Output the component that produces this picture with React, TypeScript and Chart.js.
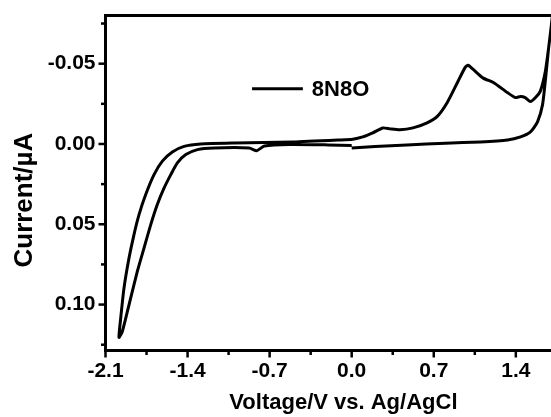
import React, { useEffect, useRef } from "react";
import { Chart, registerables } from "chart.js";

Chart.register(...registerables);

// ---- data ----
const seriesLabel = "8N8O";

// forward scan: 0 V -> positive vertex
const fwd1Voltage = [0.0, 0.2, 0.47, 0.8, 1.1, 1.33, 1.44, 1.525, 1.585, 1.628, 1.654, 1.68, 1.705, 1.73];
const fwd1Current = [0.0025, 0.0015, 0.0006, -0.0005, -0.0013, -0.0025, -0.0044, -0.0075, -0.0138, -0.0245, -0.041, -0.06, -0.075, -0.092];

// reverse scan: positive vertex -> negative vertex
const revVoltage = [1.7, 1.68, 1.652, 1.609, 1.568, 1.525, 1.48, 1.439, 1.396, 1.328, 1.208, 1.122, 1.037, 0.993, 0.968, 0.9, 0.814, 0.728, 0.643, 0.523, 0.411, 0.326, 0.266, 0.18, 0.094, 0.009, -0.103, -0.5, -1.0, -1.287, -1.43, -1.53, -1.615, -1.686, -1.757, -1.814, -1.857, -1.899, -1.942, -1.97, -1.985];
const revCurrent = [-0.072, -0.06, -0.0453, -0.0329, -0.0289, -0.0264, -0.0289, -0.0295, -0.0289, -0.032, -0.0383, -0.041, -0.0464, -0.049, -0.0477, -0.038, -0.0257, -0.017, -0.0132, -0.01, -0.0088, -0.0094, -0.01, -0.0069, -0.0044, -0.003, -0.0025, -0.0012, -0.0006, 0.0, 0.0015, 0.005, 0.0107, 0.0191, 0.0315, 0.044, 0.0564, 0.0709, 0.0896, 0.1083, 0.1204];

// second forward scan: negative vertex -> 0 V
const fwd2Voltage = [-1.956, -1.899, -1.828, -1.771, -1.714, -1.658, -1.6, -1.543, -1.487, -1.415, -1.316, -1.174, -0.874, -0.81, -0.745, -0.53, -0.2, 0.0];
const fwd2Current = [0.1166, 0.1, 0.0792, 0.0647, 0.0502, 0.0377, 0.0274, 0.0191, 0.0118, 0.0066, 0.0035, 0.0025, 0.0025, 0.0042, 0.0013, 0.0003, 0.0006, 0.001];

const xMajorTicks = [-2.1, -1.4, -0.7, 0.0, 0.7, 1.4];
const xMinorTicks = [-1.75, -1.05, -0.35, 0.35, 1.05];
const yMajorTicks = [-0.05, 0.0, 0.05, 0.1];
const yMinorTicks = [-0.075, -0.025, 0.025, 0.075, 0.125];

const xTitle = "Voltage/V vs. Ag/AgCl";
const yTitle = "Current/\u00B5A";

const X_MIN = -2.1;
const X_MAX = 1.7;
const Y_MIN = -0.08;
const Y_MAX = 0.1286;

const FONT = "Arial, 'Liberation Sans', Helvetica, sans-serif";

function zipPoints(xs: number[], ys: number[]) {
  return xs.map((x, i) => ({ x, y: ys[i] }));
}

const allPoints = [
  ...zipPoints(fwd1Voltage, fwd1Current),
  ...zipPoints(revVoltage, revCurrent),
  ...zipPoints(fwd2Voltage, fwd2Current),
];

const framePlugin = {
  id: "frameAndTicks",
  afterDraw(chart: any) {
    const { ctx, chartArea } = chart;
    const { left, top, right, bottom } = chartArea;
    const xs = chart.scales.x;
    const ys = chart.scales.y;
    ctx.save();
    ctx.strokeStyle = "#000";
    ctx.lineCap = "butt";
    ctx.lineWidth = 3;
    ctx.beginPath();
    ctx.moveTo(left - 1.5, top);
    ctx.lineTo(right, top);
    ctx.stroke();
    ctx.lineWidth = 2.5;
    const drawX = (v: number, len: number) => {
      const p = xs.getPixelForValue(v);
      ctx.beginPath();
      ctx.moveTo(p, bottom);
      ctx.lineTo(p, bottom + len);
      ctx.stroke();
    };
    const drawY = (v: number, len: number) => {
      const p = ys.getPixelForValue(v);
      ctx.beginPath();
      ctx.moveTo(left, p);
      ctx.lineTo(left - len, p);
      ctx.stroke();
    };
    xMajorTicks.forEach((v) => drawX(v, 7));
    xMinorTicks.forEach((v) => drawX(v, 4.5));
    yMajorTicks.forEach((v) => drawY(v, 7));
    yMinorTicks.forEach((v) => drawY(v, 4.5));

    // axis titles
    const w = right - left;
    const h = bottom - top;
    ctx.fillStyle = "#000";
    ctx.textAlign = "center";
    ctx.textBaseline = "middle";
    ctx.font = `bold 22px ${FONT}`;
    ctx.fillText(xTitle, left + w * 0.534, bottom + 52.5);
    ctx.save();
    ctx.translate(ys.left + 25, top + h * 0.551);
    ctx.rotate(-Math.PI / 2);
    ctx.font = `bold 26px ${FONT}`;
    ctx.fillText(yTitle, 0, 0);
    ctx.restore();
    ctx.restore();
  },
};

const legendPlugin = {
  id: "innerLegend",
  afterDraw(chart: any) {
    const { ctx, chartArea } = chart;
    const w = chartArea.right - chartArea.left;
    const h = chartArea.bottom - chartArea.top;
    const x0 = chartArea.left + w * 0.329;
    const x1 = chartArea.left + w * 0.443;
    const y = chartArea.top + h * 0.219;
    const ds = chart.data.datasets[0];
    ctx.save();
    ctx.strokeStyle = ds.borderColor;
    ctx.lineWidth = ds.borderWidth;
    ctx.beginPath();
    ctx.moveTo(x0, y);
    ctx.lineTo(x1, y);
    ctx.stroke();
    ctx.fillStyle = "#000";
    ctx.font = `bold 22px ${FONT}`;
    ctx.textAlign = "left";
    ctx.textBaseline = "middle";
    ctx.fillText(ds.label, x1 + 9, y + 1);
    ctx.restore();
  },
};

export default function App() {
  const canvasRef = useRef<HTMLCanvasElement | null>(null);

  useEffect(() => {
    const canvas = canvasRef.current;
    if (!canvas) return;
    const chart = new Chart(canvas, {
      type: "line",
      data: {
        datasets: [
          {
            label: seriesLabel,
            data: allPoints,
            borderColor: "#000",
            borderWidth: 3,
            pointRadius: 0,
            tension: 0.2,
            fill: false,
          },
        ],
      },
      options: {
        responsive: false,
        animation: false,
        events: [],
        layout: { padding: { top: 15.5, left: 0, right: 0, bottom: 0 } },
        plugins: {
          legend: { display: false },
          tooltip: { enabled: false },
        },
        scales: {
          x: {
            type: "linear",
            min: X_MIN,
            max: X_MAX,
            afterBuildTicks: (scale: any) => {
              scale.ticks = xMajorTicks.map((v) => ({ value: v }));
            },
            afterFit: (scale: any) => {
              scale.height = 66.5;
              scale.paddingLeft = 0;
              scale.paddingRight = 0;
            },
            ticks: {
              autoSkip: false,
              maxRotation: 0,
              padding: 8,
              color: "#000",
              font: { family: FONT, size: 21, weight: "bold" },
              callback: (v: any) => Number(v).toFixed(1),
            },
            grid: { display: true, drawOnChartArea: false, drawTicks: false },
            border: { display: true, color: "#000", width: 3 },
            title: { display: false },
          },
          y: {
            type: "linear",
            reverse: true,
            min: Y_MIN,
            max: Y_MAX,
            afterBuildTicks: (scale: any) => {
              scale.ticks = yMajorTicks.map((v) => ({ value: v }));
            },
            afterFit: (scale: any) => {
              scale.width = 105.5;
              scale.paddingTop = 0;
              scale.paddingBottom = 0;
            },
            ticks: {
              autoSkip: false,
              padding: 10,
              color: "#000",
              font: { family: FONT, size: 21, weight: "bold" },
              callback: (v: any) => Number(v).toFixed(2).replace("-0.00", "0.00"),
            },
            grid: { display: true, drawOnChartArea: false, drawTicks: false },
            border: { display: true, color: "#000", width: 3 },
            title: { display: false },
          },
        },
      },
      plugins: [framePlugin, legendPlugin],
    });
    return () => chart.destroy();
  }, []);

  return (
    <div style={{ position: "fixed", left: 0, top: 0, width: 551, height: 417, background: "#fff", overflow: "hidden" }}>
      <canvas ref={canvasRef} width={551} height={417} style={{ display: "block" }} />
    </div>
  );
}
